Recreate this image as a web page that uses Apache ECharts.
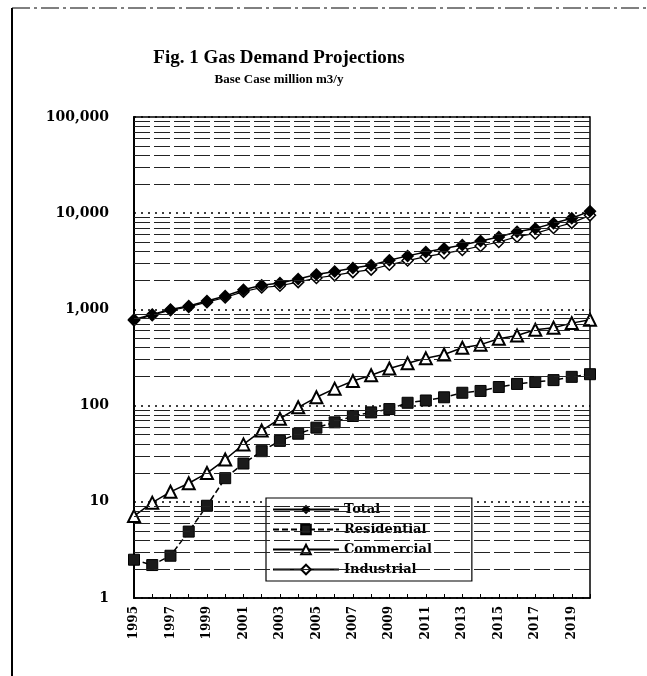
<!DOCTYPE html>
<html lang="en">
<head>
  <meta charset="UTF-8">
  <script type="text/javascript" src="https://cdn.jsdelivr.net/npm/echarts@6/dist/echarts.min.js"></script>
  <title>Gas Demand Projections</title>
  <style type="text/css">
    * {
      margin: 0;
      padding: 0;
    }

    html, body {
      width: 100%;
      height: 100%;
      background-color: #fff;
    }

    #chart {
      width: 647px;
      height: 676px;
    }
  </style>
</head>

<body>
<div id="chart"></div>
</body>
<script type="text/javascript">
  var years = ['1995', '1996', '1997', '1998', '1999', '2000', '2001', '2002', '2003', '2004',
    '2005', '2006', '2007', '2008', '2009', '2010', '2011', '2012', '2013', '2014',
    '2015', '2016', '2017', '2018', '2019', '2020']

  var total = [785, 885, 1000, 1085, 1220, 1380, 1600, 1780, 1880, 2070,
    2300, 2480, 2700, 2880, 3250, 3600, 3950, 4290, 4680, 5130,
    5670, 6400, 6950, 7850, 8850, 10500]

  var residential = [2.5, 2.2, 2.75, 4.9, 9.1, 17.6, 25, 33.6, 43, 51,
    59, 67, 78, 85, 92, 107, 113, 122, 136, 142,
    156, 168, 176, 184, 199, 212]

  var commercial = [7.1, 9.8, 12.7, 15.6, 19.9, 27.5, 39.5, 55, 73, 96,
    122, 150, 180, 207, 243, 275, 310, 340, 400, 430,
    495, 535, 615, 645, 720, 780]

  var industrial = [770, 870, 980, 1060, 1190, 1330, 1530, 1690, 1760, 1920,
    2120, 2260, 2440, 2590, 2910, 3220, 3530, 3830, 4140, 4560,
    5020, 5700, 6160, 7020, 7930, 9500]

  var seriesNames = ['Total', 'Residential', 'Commercial', 'Industrial']

  // 次刻度网格线 2..9 每个数量级
  var minorLevels = []
  for (var d = 1; d <= 10000; d *= 10) {
    for (var k = 2; k <= 9; k++) {
      minorLevels.push({yAxis: k * d})
    }
  }

  var serif = 'DejaVu Serif'

  var myChart = echarts.init(document.getElementById('chart'))
  var option = {
    backgroundColor: '#fff',
    animation: false,
    title: {
      text: 'Fig. 1 Gas Demand Projections',
      subtext: 'Base Case million m3/y',
      left: 274,
      top: 44,
      textAlign: 'center',
      itemGap: 5,
      textStyle: {
        fontFamily: 'Liberation Serif',
        fontWeight: 'bold',
        fontSize: 19,
        color: '#000'
      },
      subtextStyle: {
        fontFamily: 'Liberation Serif',
        fontWeight: 'bold',
        fontSize: 13,
        color: '#000'
      }
    },
    legend: {
      data: seriesNames,
      orient: 'vertical',
      left: 266,
      top: 498,
      itemWidth: 66,
      itemHeight: 12,
      itemGap: 7,
      padding: [5, 40, 5, 6],
      borderColor: '#000',
      borderWidth: 1.2,
      backgroundColor: '#fff',
      textStyle: {
        fontFamily: serif,
        fontWeight: 'bold',
        fontSize: 13,
        color: '#000'
      }
    },
    grid: {
      left: 134,
      right: 57,
      top: 117,
      bottom: 78,
      show: true,
      borderColor: '#000',
      borderWidth: 1.5,
      backgroundColor: '#fff'
    },
    xAxis: {
      type: 'category',
      data: years,
      boundaryGap: false,
      axisLine: {lineStyle: {color: '#000', width: 1.5}},
      axisTick: {show: true, inside: true, length: 4, interval: 0, lineStyle: {color: '#000'}},
      axisLabel: {
        interval: 1,
        rotate: 90,
        margin: 8,
        fontFamily: serif,
        fontWeight: 'bold',
        fontSize: 12,
        color: '#000'
      },
      splitLine: {show: false}
    },
    yAxis: {
      type: 'log',
      logBase: 10,
      min: 1,
      max: 100000,
      axisLine: {show: true, lineStyle: {color: '#000', width: 2}},
      axisTick: {show: false},
      axisLabel: {
        margin: 25,
        fontFamily: serif,
        fontWeight: 'bold',
        fontSize: 14,
        color: '#000',
        formatter: function (v) {
          return Number(v).toLocaleString('en-US')
        }
      },
      splitLine: {
        show: true,
        lineStyle: {color: '#000', type: [2, 5], width: 1.5}
      }
    },
    series: [
      {
        name: 'grid',
        type: 'line',
        data: [],
        silent: true,
        z: 1,
        markLine: {
          silent: true,
          symbol: 'none',
          label: {show: false},
          lineStyle: {color: '#222', type: [16, 4], width: 1},
          data: minorLevels
        }
      },
      {
        name: 'Total',
        type: 'line',
        data: total,
        z: 4,
        showAllSymbol: true,
        symbol: 'diamond',
        symbolSize: 13,
        itemStyle: {color: '#000'},
        lineStyle: {color: '#000', width: 1.5}
      },
      {
        name: 'Residential',
        type: 'line',
        data: residential,
        z: 3,
        showAllSymbol: true,
        symbol: 'rect',
        symbolSize: 11,
        itemStyle: {color: '#1a1a1a', borderColor: '#000', borderWidth: 1},
        lineStyle: {color: '#000', width: 1.5, type: [6, 3]}
      },
      {
        name: 'Commercial',
        type: 'line',
        data: commercial,
        z: 3,
        showAllSymbol: true,
        symbol: 'triangle',
        symbolSize: 12,
        itemStyle: {color: '#fff', borderColor: '#000', borderWidth: 2},
        lineStyle: {color: '#000', width: 1.5}
      },
      {
        name: 'Industrial',
        type: 'line',
        data: industrial,
        z: 3,
        showAllSymbol: true,
        symbol: 'diamond',
        symbolSize: 11,
        itemStyle: {color: '#fff', borderColor: '#000', borderWidth: 1.5},
        lineStyle: {color: '#000', width: 1.2}
      }
    ],
    graphic: [
      {
        type: 'line',
        shape: {x1: 12, y1: 8, x2: 12, y2: 676},
        style: {stroke: '#000', lineWidth: 2}
      },
      {
        type: 'line',
        shape: {x1: 12, y1: 8, x2: 647, y2: 8},
        style: {stroke: '#000', lineWidth: 1, lineDash: [18, 4, 3, 4]}
      }
    ]
  };

  myChart.setOption(option);
</script>
</html>
